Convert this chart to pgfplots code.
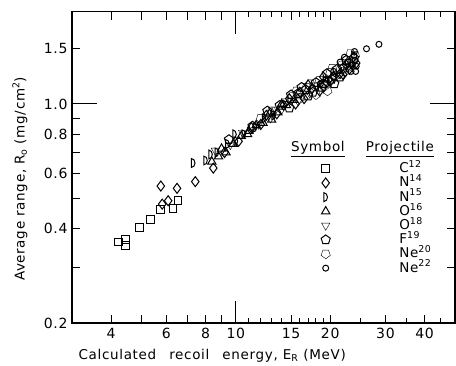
\documentclass[border=0pt]{standalone}
\usepackage{pgfplots}
\pgfplotsset{compat=1.18}
\usepackage{fontspec}
\setmainfont{DejaVu Sans}[LetterSpace=5]
\usetikzlibrary{calc}

\pgfdeclareplotmark{Dmark}{%
  \pgfpathmoveto{\pgfqpoint{-0.4\pgfplotmarksize}{-\pgfplotmarksize}}%
  \pgfpathlineto{\pgfqpoint{-0.4\pgfplotmarksize}{\pgfplotmarksize}}%
  \pgfpatharc{90}{-90}{0.8\pgfplotmarksize and \pgfplotmarksize}%
  \pgfpathclose
  \pgfusepathqstroke}

\begin{document}
\begin{tikzpicture}
\begin{axis}[
  scale only axis, width=383pt, height=311.3pt,
  xmode=log, ymode=log, xmin=3, xmax=50, ymin=0.2, ymax=1.97,
  xtick={4,5,6,7,8,9,10,15,20,30,40},
  xticklabels={4,{},6,{},8,{},10,15,20,30,40},
  minor xtick={11,12,13,14,16,17,18,19,25,35,45},
  ytick={0.2,0.3,0.4,0.5,0.6,0.7,0.8,0.9,1.0,1.5},
  yticklabels={0.2,{},0.4,{},0.6,{},0.8,{},1.0,1.5},
  extra x ticks={10}, extra x tick labels={}, extra x tick style={major tick length=22pt},
  extra y ticks={1}, extra y tick labels={}, extra y tick style={major tick length=25pt},
  major tick length=8pt, minor tick length=5pt,
  tick align=inside,
  axis line style={line width=1.5pt},
  every tick/.style={black, line width=0.9pt},
  tick label style={font=\fontsize{14}{16}\selectfont},
  xticklabel style={yshift=-2pt},
  yticklabel style={xshift=-1pt},
  label style={font=\fontsize{13.5}{15}\selectfont},
  xlabel={Calculated\hspace{0.6em} recoil\hspace{0.6em} energy, E\textsubscript{R} (MeV)},
  ylabel={Average range, R\textsubscript{o} (mg/cm\textsuperscript{2})},
  xlabel style={at={(axis description cs:0.366,-0.106)}, anchor=center},
  ylabel style={at={(axis description cs:-0.136,0.463)}, anchor=center},
  legend style={at={(rel axis cs:0.650,0.517)}, anchor=north west, draw=none, fill=none,
    inner sep=0pt, row sep=1.2pt, font=\fontsize{13.5}{15}\selectfont,
    nodes={inner sep=1pt, text height=9.5pt, text depth=1.5pt},
    /tikz/every odd column/.append style={column sep=68pt}},
  legend cell align=left,
  every axis plot/.append style={only marks, mark options={line width=1pt, solid}},
]
\coordinate (SW) at (rel axis cs:0,0);
\coordinate (NE) at (rel axis cs:1,1);

% C12 squares
\addplot[mark=square, mark size=3.8pt] coordinates {
(4.22,0.363) (4.45,0.370) (4.45,0.354) (4.93,0.404) (5.35,0.427)
(5.74,0.461) (6.30,0.464) (6.54,0.491)};
\addlegendentry{C\textsuperscript{12}}

% N14 diamonds
\addplot[mark=diamond, mark size=5pt] coordinates {
(5.76,0.547) (6.49,0.538) (6.08,0.491) (5.82,0.479) (7.42,0.565)
(8.47,0.624) (9.2,0.70) (10.2,0.76) (11.2,0.84) (12.5,0.92) (13.5,0.93)
(14.2,0.99) (15.5,1.00) (16.5,1.04) (17.5,1.12) (18.5,1.10) (19.5,1.17)
(20.5,1.22) (21.5,1.25) (22.5,1.33) (23.0,1.29) (16.0,1.09) (19.0,1.22) (22.0,1.24)
(12.0,0.86) (14.8,1.04) (17.0,1.15) (20.0,1.18) (24.2,1.35)};
\addlegendentry{N\textsuperscript{14}}

% N15 D
\addplot[mark=Dmark, mark size=4.4pt] coordinates {
(7.31,0.648) (8.0,0.66) (8.7,0.70) (9.4,0.745) (9.9,0.80) (10.6,0.80)
(11.5,0.84) (8.3,0.69) (12.3,0.90) (13.2,0.92) (10.0,0.76)};
\addlegendentry{N\textsuperscript{15}}

% O16 triangles
\addplot[mark=triangle, mark size=4.8pt] coordinates {
(8.38,0.654) (8.8,0.68) (9.3,0.70) (9.8,0.745) (10.4,0.79) (10.9,0.80)
(11.6,0.855) (12.2,0.87) (12.8,0.93) (13.6,0.94) (14.5,0.99) (15.3,1.03)
(9.0,0.72) (11.0,0.82) (13.0,0.89) (14.0,1.00)};
\addlegendentry{O\textsuperscript{16}}

% O18 down triangles
\addplot[mark=triangle, mark size=4.8pt, mark options={rotate=180}] coordinates {
(8.6,0.71) (9.6,0.74) (10.5,0.81) (11.8,0.86) (12.9,0.90) (14.0,0.96)
(15.0,1.03) (16.3,1.06) (17.2,1.08) (18.2,1.14) (19.8,1.19) (21.0,1.25) (13.4,0.96)
(15.8,1.02) (19.0,1.12)};
\addlegendentry{O\textsuperscript{18}}

% F19 pentagons
\addplot[mark=pentagon, mark size=4.8pt] coordinates {
(9.5,0.77) (11.3,0.85) (12.6,0.95) (13.8,0.99) (14.8,0.97) (15.8,1.08)
(16.7,1.11) (17.6,1.09) (18.0,1.17) (18.8,1.13) (19.5,1.25) (20.2,1.20)
(21.0,1.29) (22.0,1.30) (23.0,1.35) (23.8,1.40) (16.2,1.13) (17.0,1.06)
(19.0,1.16) (22.5,1.38) (21.5,1.22) (15.0,1.07) (20.6,1.16)};
\addlegendentry{F\textsuperscript{19}}

% Ne20 inverted pentagons
\addplot[mark=pentagon, mark size=4.8pt, mark options={rotate=180}] coordinates {
(12.0,0.90) (13.0,0.95) (14.3,1.01) (15.2,1.06) (16.0,1.04) (16.8,1.13)
(17.8,1.14) (18.5,1.19) (19.2,1.14) (20.0,1.26) (20.8,1.23) (21.8,1.33)
(22.8,1.31) (23.5,1.36) (24.0,1.43) (17.3,1.16) (15.6,1.10) (20.3,1.30)
(23.2,1.45) (18.0,1.07) (19.6,1.10) (22.2,1.27)};
\addlegendentry{Ne\textsuperscript{20}}

% Ne22 circles
\addplot[mark=o, mark size=3pt] coordinates {
(26.1,1.50) (28.6,1.55) (23.8,1.43) (24.0,1.38) (23.5,1.33) (22.8,1.36)
(24.2,1.32) (23.9,1.47) (22.2,1.41) (21.5,1.36) (24.1,1.27) (20.5,1.27) (23.3,1.27)
(18.6,1.16) (19.4,1.20)};
\addlegendentry{Ne\textsuperscript{22}}

\node[anchor=base, font=\fontsize{13.5}{15}\selectfont] at (rel axis cs:0.642,0.55) {\underline{Symbol}};
\node[anchor=base, font=\fontsize{13.5}{15}\selectfont] at (rel axis cs:0.856,0.55) {\underline{Projectile}};
\end{axis}
\pgfresetboundingbox
\path[use as bounding box] ($(SW)+(-72pt,-43pt)$) rectangle ($(NE)+(1pt,11.7pt)$);
\end{tikzpicture}
\end{document}
